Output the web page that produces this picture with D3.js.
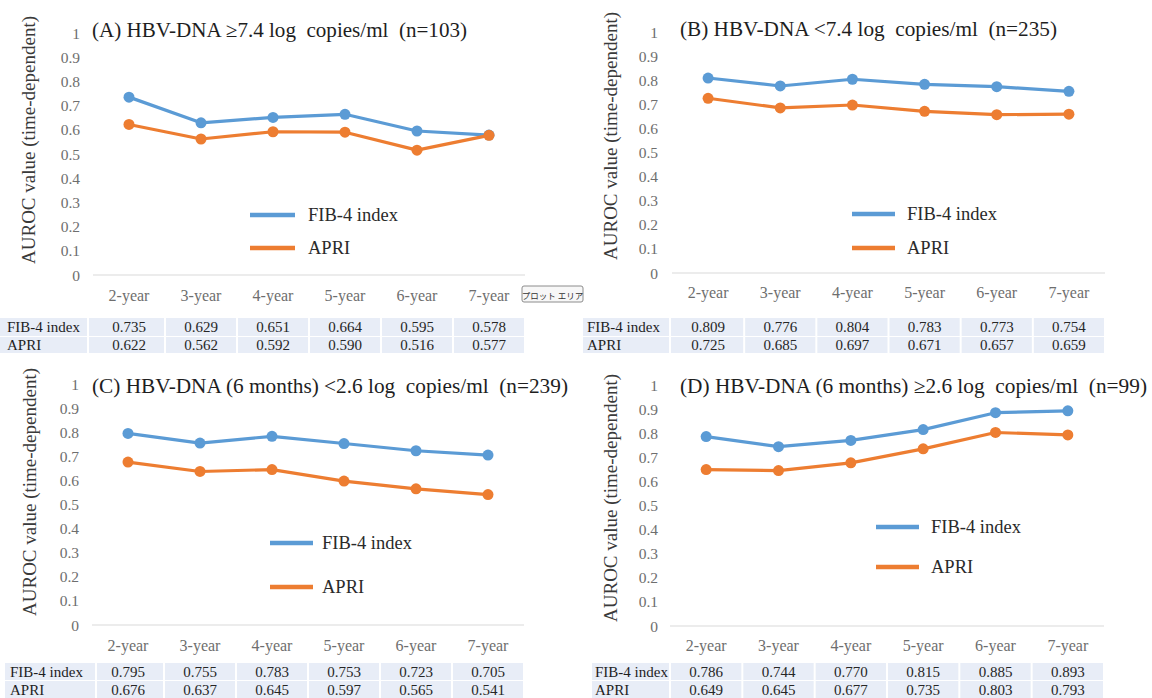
<!DOCTYPE html>
<html><head><meta charset="utf-8">
<script src="https://cdn.jsdelivr.net/npm/d3@7"></script>
<style>
body{margin:0;background:#fff;}
svg{display:block;}
svg text{font-family:"Liberation Serif","Times New Roman","DejaVu Serif",serif;}
svg text.jp{font-family:"Noto Sans CJK JP",sans-serif;}
</style>
</head><body>
<svg id="chart" width="1152" height="698" font-family="Liberation Serif, serif"></svg>
<script>
// ---------- data ----------
const categories = ["2-year","3-year","4-year","5-year","6-year","7-year"];
const yTickValues = [0,0.1,0.2,0.3,0.4,0.5,0.6,0.7,0.8,0.9,1];
const seriesNames = ["FIB-4 index","APRI"];
const yAxisTitle = "AUROC value (time-dependent)";
const panelTitles = [
  "(A) HBV-DNA \u22657.4 log  copies/ml  (n=103)",
  "(B) HBV-DNA <7.4 log  copies/ml  (n=235)",
  "(C) HBV-DNA (6 months) <2.6 log  copies/ml  (n=239)",
  "(D) HBV-DNA (6 months) \u22652.6 log  copies/ml  (n=99)"
];
const fib4A = [0.735,0.629,0.651,0.664,0.595,0.578];
const apriA = [0.622,0.562,0.592,0.590,0.516,0.577];
const fib4B = [0.809,0.776,0.804,0.783,0.773,0.754];
const apriB = [0.725,0.685,0.697,0.671,0.657,0.659];
const fib4C = [0.795,0.755,0.783,0.753,0.723,0.705];
const apriC = [0.676,0.637,0.645,0.597,0.565,0.541];
const fib4D = [0.786,0.744,0.770,0.815,0.885,0.893];
const apriD = [0.649,0.645,0.677,0.735,0.803,0.793];
const tableValueLabels = [
  [["0.735","0.629","0.651","0.664","0.595","0.578"],["0.622","0.562","0.592","0.590","0.516","0.577"]],
  [["0.809","0.776","0.804","0.783","0.773","0.754"],["0.725","0.685","0.697","0.671","0.657","0.659"]],
  [["0.795","0.755","0.783","0.753","0.723","0.705"],["0.676","0.637","0.645","0.597","0.565","0.541"]],
  [["0.786","0.744","0.770","0.815","0.885","0.893"],["0.649","0.645","0.677","0.735","0.803","0.793"]]
];
const panelSeries = [[fib4A,apriA],[fib4B,apriB],[fib4C,apriC],[fib4D,apriD]];
const tooltipLabel = "\u30d7\u30ed\u30c3\u30c8 \u30a8\u30ea\u30a2";

// ---------- layout (positions/styles) ----------
const colors = ["#5B9BD5","#ED7D31"];
const SERIF = "Liberation Serif, Times New Roman, serif";
const layouts = [
  {x0:93,x1:525,yTop:33,yBot:275,tickRight:80,yTitleX:28,yTitleY:140,titleX:92,titleY:37,titleW:375,xLabY:295,
   legLine:[250,295],legText:308,legY:[215,248],tabLeft:0,tabLabelX:7,tabLabelRight:88,rows:[[318,336],[337,353]]},
  {x0:672,x1:1105,yTop:32,yBot:273,tickRight:658,yTitleX:610,yTitleY:136,titleX:680,titleY:36,titleW:377,xLabY:292,
   legLine:[852,895],legText:907,legY:[214,248],tabLeft:583,tabLabelX:587,tabLabelRight:670,rows:[[318,336],[337,353]]},
  {x0:92,x1:524,yTop:384,yBot:625,tickRight:79,yTitleX:29,yTitleY:492,titleX:92,titleY:393,titleW:476,xLabY:645,
   legLine:[270,313],legText:322,legY:[543,587],tabLeft:5,tabLabelX:10,tabLabelRight:96,rows:[[663,680],[681,698]]},
  {x0:670,x1:1104,yTop:385,yBot:626,tickRight:658,yTitleX:610,yTitleY:498,titleX:680,titleY:393,titleW:467,xLabY:645,
   legLine:[876,919],legText:931,legY:[527,567],tabLeft:592,tabLabelX:595,tabLabelRight:670,rows:[[663,680],[681,698]]}
];

const svg = d3.select("#chart");
svg.append("rect").attr("width",1152).attr("height",698).attr("fill","#fff");

layouts.forEach((L, pi) => {
  const g = svg.append("g").attr("font-family",SERIF);
  const x = d3.scaleBand().domain(categories).range([L.x0, L.x1]);
  const y = d3.scaleLinear().domain([0,1]).range([L.yBot, L.yTop]);

  g.append("line").attr("x1",L.x0).attr("x2",L.x1).attr("y1",y(0)).attr("y2",y(0))
    .attr("stroke","#d9d9d9").attr("stroke-width",1);

  g.selectAll("text.yt").data(yTickValues).join("text").attr("class","yt")
    .attr("x",L.tickRight).attr("y",d=>y(d)).attr("text-anchor","end")
    .attr("dominant-baseline","central").attr("font-size",15.5).attr("fill","#6e6e6e")
    .text(d=>String(+d.toFixed(1)));

  g.append("text").attr("transform",`translate(${L.yTitleX},${L.yTitleY}) rotate(-90)`)
    .attr("text-anchor","middle").attr("dominant-baseline","central")
    .attr("font-size",19).attr("fill","#3a3a3a").text(yAxisTitle);

  g.selectAll("text.xl").data(categories).join("text").attr("class","xl")
    .attr("x",d=>x(d)+x.bandwidth()/2).attr("y",L.xLabY).attr("text-anchor","middle")
    .attr("dominant-baseline","central").attr("font-size",16).attr("fill","#6e6e6e").text(d=>d);

  g.append("text").attr("x",L.titleX).attr("y",L.titleY).attr("font-size",20.5)
    .attr("textLength",L.titleW).attr("lengthAdjust","spacingAndGlyphs")
    .attr("fill","#1e1e1e").attr("xml:space","preserve").style("white-space","pre").text(panelTitles[pi]);

  const line = d3.line().x((d,i)=>x(categories[i])+x.bandwidth()/2).y(d=>y(d));
  panelSeries[pi].forEach((vals, si) => {
    g.append("path").attr("d",line(vals)).attr("fill","none").attr("stroke",colors[si])
      .attr("stroke-width",3.2).attr("stroke-linejoin","round");
    g.selectAll(null).data(vals).join("circle")
      .attr("cx",(d,i)=>x(categories[i])+x.bandwidth()/2).attr("cy",d=>y(d)).attr("r",5.5)
      .attr("fill",colors[si]);
  });

  seriesNames.forEach((name, si) => {
    g.append("line").attr("x1",L.legLine[0]).attr("x2",L.legLine[1])
      .attr("y1",L.legY[si]).attr("y2",L.legY[si]).attr("stroke",colors[si]).attr("stroke-width",4.5);
    g.append("text").attr("x",L.legText).attr("y",L.legY[si]).attr("dominant-baseline","central")
      .attr("font-size",18.5).attr("fill","#2a2a2a").text(name);
  });

  const colEdges = categories.map(c => [x(c), x(c)+x.bandwidth()]);
  colEdges[0][0] = L.tabLabelRight;
  seriesNames.forEach((name, ri) => {
    const [top, bot] = L.rows[ri];
    g.append("rect").attr("x",L.tabLeft).attr("y",top).attr("width",L.tabLabelRight-L.tabLeft-1)
      .attr("height",bot-top).attr("fill","#e8edf7");
    g.append("text").attr("x",L.tabLabelX).attr("y",(top+bot)/2).attr("dominant-baseline","central")
      .attr("font-size",15).attr("fill","#1e1e1e").text(name);
    colEdges.forEach((e, ci) => {
      g.append("rect").attr("x",e[0]+1).attr("y",top).attr("width",e[1]-e[0]-2).attr("height",bot-top)
        .attr("fill","#e8edf7");
      g.append("text").attr("x",x(categories[ci])+x.bandwidth()/2).attr("y",(top+bot)/2)
        .attr("text-anchor","middle").attr("dominant-baseline","central")
        .attr("font-size",15).attr("fill","#262626").text(tableValueLabels[pi][ri][ci]);
    });
  });
});

const tip = svg.append("g");
tip.append("rect").attr("x",522).attr("y",286).attr("width",61).attr("height",16).attr("rx",2)
  .attr("fill","#f7f7f7").attr("stroke","#8c8c8c").attr("stroke-width",1);
tip.append("text").attr("class","jp").attr("x",552.5).attr("y",294.5).attr("text-anchor","middle")
  .attr("dominant-baseline","central").attr("font-family","Noto Sans CJK JP, sans-serif")
  .attr("font-size",8.5).attr("fill","#333").text(tooltipLabel);
</script>
</body></html>
